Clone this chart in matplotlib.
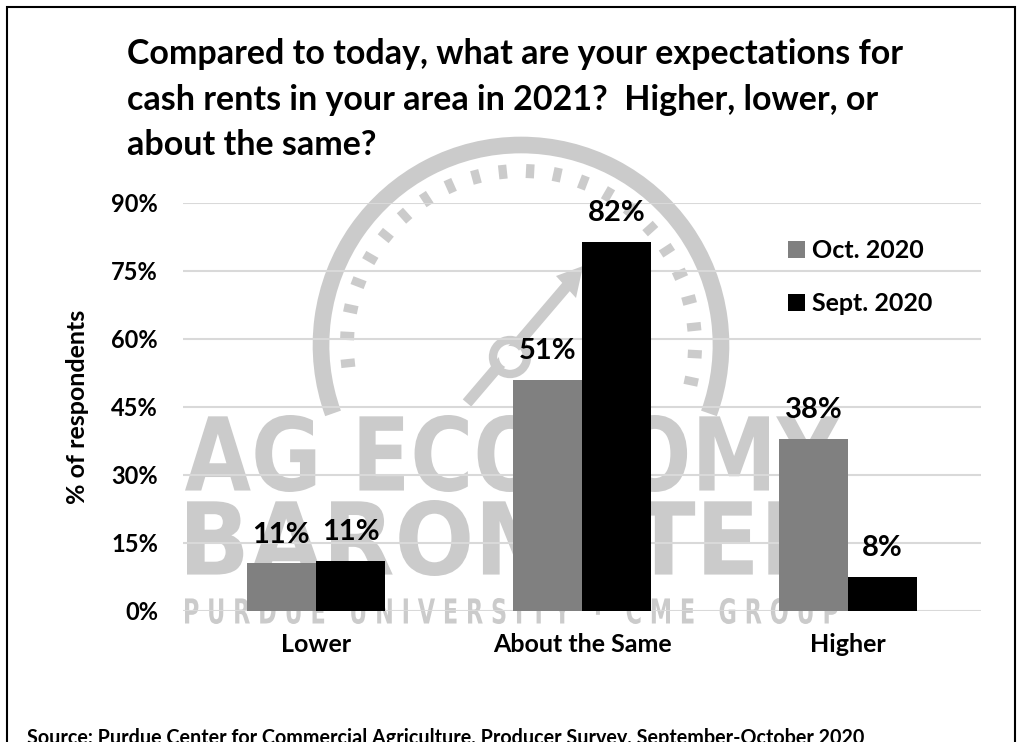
import numpy as np
import matplotlib
matplotlib.use("Agg")
import matplotlib.pyplot as plt
from matplotlib.patches import Arc, Rectangle, PathPatch, Polygon
from matplotlib.textpath import TextPath
from matplotlib.font_manager import FontProperties
from matplotlib.transforms import Affine2D

categories = ["Lower", "About the Same", "Higher"]
oct_2020 = [10.5, 51.0, 38.0]
sept_2020 = [11.0, 81.5, 7.5]
oct_labels = ["11%", "51%", "38%"]
sept_labels = ["11%", "82%", "8%"]
yticks = [0, 15, 30, 45, 60, 75, 90]
ytick_labels = ["0%", "15%", "30%", "45%", "60%", "75%", "90%"]
title_lines = ["Compared to today, what are your expectations for",
               "cash rents in your area in 2021?  Higher, lower, or",
               "about the same?"]
source = "Source: Purdue Center for Commercial Agriculture, Producer Survey, September-October 2020"

W, H = 1023, 742
plt.rcParams["font.family"] = ["Lato", "DejaVu Sans"]
plt.rcParams["font.weight"] = "bold"


def fx(x):
    return x / W


def fy(y):
    return 1 - y / H


fig = plt.figure(figsize=(W / 100, H / 100), dpi=100)
pix = Affine2D().scale(1 / W, 1 / H) + fig.transFigure  # pixel coords (y up)

# --- watermark logo (light gray, behind the chart) ---
wm = "#cbcbcb"
cx, cy, r = 521, 345, 200
fig.add_artist(Arc((cx, H - cy), 2 * r, 2 * r, theta1=-20, theta2=200,
                   transform=pix, color=wm, lw=12, zorder=0))
for ang in np.arange(-12, 193, 9):
    a = np.radians(ang)
    r1, r2 = 167, 181
    fig.add_artist(plt.Line2D([cx + r1 * np.cos(a), cx + r2 * np.cos(a)],
                              [H - cy + r1 * np.sin(a), H - cy + r2 * np.sin(a)],
                              transform=pix, color=wm, lw=6, solid_capstyle="butt", zorder=0))
hx, hy = 510, H - 357
fig.add_artist(plt.Line2D([467, 572], [H - 403, H - 280], transform=pix, color=wm, lw=8,
                          solid_capstyle="butt", zorder=0))
fig.add_artist(Polygon([[583, H - 266], [556, H - 276], [576, H - 298]], closed=True,
                       transform=pix, color=wm, lw=0, zorder=0))
fig.add_artist(Arc((hx, hy), 34, 34, transform=pix, color=wm, lw=6, zorder=0))
fig.add_artist(plt.Circle((hx, hy), 11, transform=pix, color="white", lw=0, zorder=0))


def wm_text(text, x0, x1, ytop, ybot):
    tp = TextPath((0, 0), text, size=100,
                  prop=FontProperties(family="DejaVu Sans", weight="bold"))
    ext = tp.get_extents()
    t = (Affine2D().translate(-ext.x0, -ext.y0)
         .scale((x1 - x0) / ext.width, (ybot - ytop) / ext.height)
         .translate(x0, H - ybot))
    fig.add_artist(PathPatch(t.transform_path(tp), transform=pix, color=wm, lw=0, zorder=0))


wm_text("AG ECONOMY", 185, 840, 415, 492)
wm_text("BAROMETER", 187, 830, 500, 576)
wm_text("P U R D U E   U N I V E R S I T Y   \u00b7   C M E   G R O U P", 185, 838, 598, 624)

# --- chart ---
ax = fig.add_axes([fx(183), fy(611), (981 - 183) / W, (611 - 203) / H])
ax.patch.set_alpha(0)

x = np.arange(len(categories))
w = 0.26
b1 = ax.bar(x - w / 2, oct_2020, w, color="#808080", label="Oct. 2020", zorder=3)
b2 = ax.bar(x + w / 2, sept_2020, w, color="#000000", label="Sept. 2020", zorder=3)

for bars, labels in ((b1, oct_labels), (b2, sept_labels)):
    for rect, lab in zip(bars, labels):
        ax.annotate(lab, (rect.get_x() + rect.get_width() / 2, rect.get_height()),
                    xytext=(0, 15), textcoords="offset points", ha="center", va="baseline",
                    fontsize=21, fontweight="bold")

ax.set_xlim(-0.5, 2.5)
ax.set_ylim(0, 90)
ax.set_yticks(yticks)
ax.set_yticklabels(ytick_labels)
ax.set_xticks(x)
ax.set_xticklabels(categories)
ax.tick_params(axis="both", length=0)
ax.tick_params(axis="y", pad=18, labelsize=17)
ax.tick_params(axis="x", pad=16, labelsize=18)
ax.grid(axis="y", color="#d9d9d9", lw=1.5, zorder=1)
ax.set_axisbelow(True)
for s in ax.spines.values():
    s.set_visible(False)
ax.set_ylabel("% of respondents", fontsize=18, fontweight="bold", labelpad=16)

ax.legend(loc="upper left", bbox_to_anchor=(fx(778), fy(229)), bbox_transform=fig.transFigure,
          frameon=False, fontsize=18, handlelength=0.68, handleheight=0.68, handletextpad=0.28,
          labelspacing=1.2, borderaxespad=0)

for yb, line in zip([64, 110, 155], title_lines):
    fig.text(fx(127), fy(yb), line, fontsize=24.5, fontweight="bold", va="baseline")

fig.text(fx(27), fy(744), source, fontsize=14.2, fontweight="bold", va="baseline")

fig.add_artist(Rectangle((7, -60), 1015 - 7, H + 60 - 7, transform=pix,
                         fill=False, ec="black", lw=1.5, zorder=5))

fig.savefig("out.png", dpi=100)
